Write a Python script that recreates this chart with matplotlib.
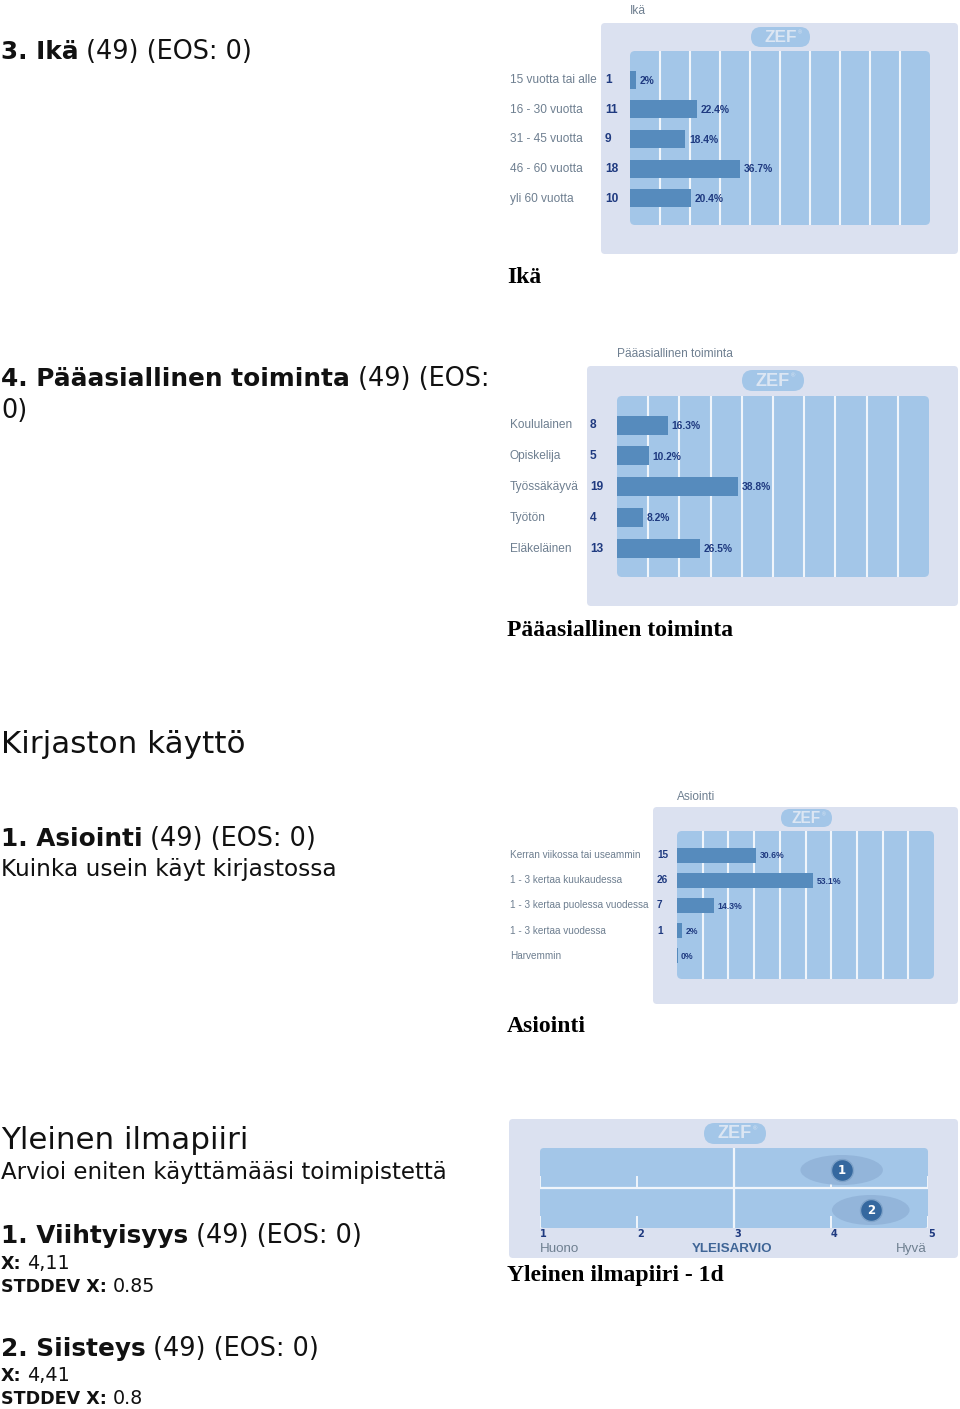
import matplotlib
matplotlib.use("Agg")
import matplotlib.pyplot as plt
from matplotlib.patches import FancyBboxPatch, Ellipse
from matplotlib.transforms import blended_transform_factory

W = 960
H = 1409

age_labels = ["15 vuotta tai alle", "16 - 30 vuotta", "31 - 45 vuotta", "46 - 60 vuotta", "yli 60 vuotta"]
age_counts = ["1", "11", "9", "18", "10"]
age_pct = [2, 22.4, 18.4, 36.7, 20.4]

work_labels = ["Koululainen", "Opiskelija", "Työssäkäyvä", "Työtön", "Eläkeläinen"]
work_counts = ["8", "5", "19", "4", "13"]
work_pct = [16.3, 10.2, 38.8, 8.2, 26.5]

visit_labels = ["Kerran viikossa tai useammin", "1 - 3 kertaa kuukaudessa", "1 - 3 kertaa puolessa vuodessa",
                "1 - 3 kertaa vuodessa", "Harvemmin"]
visit_counts = ["15", "26", "7", "1", ""]
visit_pct = [30.6, 53.1, 14.3, 2, 0]

climate_means = [4.11, 4.41]
climate_stddev = [0.85, 0.8]
climate_ticks = [1, 2, 3, 4, 5]

PANEL = "#dbe1f0"
INNER = "#a3c6e8"
BAR = "#568bbd"
NAVY = "#1f3a80"
GREY = "#6e7f90"
LINE = "#f0f5fb"

fig = plt.figure(figsize=(W / 100, H / 100), dpi=100, facecolor="white")
page = fig.add_axes([0, 0, 1, 1])
page.set_xlim(0, W)
page.set_ylim(H, 0)
page.axis("off")


def px_axes(x0, y0, x1, y1):
    ax = fig.add_axes([x0 / W, 1 - y1 / H, (x1 - x0) / W, (y1 - y0) / H])
    ax.axis("off")
    ax.patch.set_alpha(0)
    return ax


def box(x0, y0, x1, y1, color, r=4, z=1):
    page.add_patch(FancyBboxPatch((x0 + r, y0 + r), x1 - x0 - 2 * r, y1 - y0 - 2 * r,
                                  boxstyle="round,pad=%g,rounding_size=%g" % (r, r),
                                  fc=color, ec="none", zorder=z))


def logo(x0, y0, x1, y1):
    r = (y1 - y0) / 2
    box(x0, y0, x1, y1, INNER, r=r, z=2)
    cx = (x0 + x1) / 2
    page.text(cx, (y0 + y1) / 2 + 0.5, "ZEF", color="#dce6f3", fontsize=(y1 - y0) * 0.62, fontweight="bold",
              ha="center", va="center", family="Liberation Sans", zorder=3)
    page.text(cx + (y1 - y0) * 0.95, y0 + (y1 - y0) * 0.3, "®", color="#dce6f3", fontsize=(y1 - y0) * 0.2,
              ha="center", va="center", family="Liberation Sans", zorder=3)


def rich(x, y, parts, size, bold_size=None):
    rend = fig.canvas.get_renderer()
    for s, weight in parts:
        fs = bold_size if (weight == "bold" and bold_size) else size
        t = page.text(x, y, s, fontsize=fs, fontweight=weight, color="#111111", family="DejaVu Sans",
                      va="baseline", ha="left")
        x += t.get_window_extent(rend).width + size * 0.42


def caption(x, y, s):
    page.text(x, y, s, fontsize=17.05, fontweight="bold", color="black", family="Liberation Serif",
              va="baseline", ha="left")


def bar_chart(title, title_x, title_y, panel, inner, pill, c0, step, bar_h,
              labels, counts, pct, count_x, fs):
    box(*panel, PANEL)
    box(*inner, INNER, r=5, z=2)
    logo(*pill)
    page.text(title_x, title_y, title, fontsize=8.6, color=GREY, family="Liberation Sans", va="center")

    ax = px_axes(inner[0], inner[1], inner[2], inner[3])
    ax.set_xlim(0, 100)
    ax.set_ylim((inner[3] - c0) / step, (inner[1] - c0) / step)
    for g in range(10, 100, 10):
        ax.axvline(g, color=LINE, lw=1.5, zorder=1)
    rows = list(range(len(labels)))
    ax.barh(rows, pct, height=bar_h / step, color=BAR, zorder=2)
    if pct[-1] == 0:
        ax.barh(rows[-1], 0.5, height=bar_h / step, color=BAR, zorder=2)
    tr = blended_transform_factory(page.transData, ax.transData)
    for i in rows:
        page.text(510, i - 1 / step, labels[i], transform=tr, fontsize=fs, color=GREY, family="Liberation Sans",
                  va="center_baseline", ha="left")
        page.text(count_x, i - 1 / step, counts[i], transform=tr, fontsize=fs, fontweight="bold", color=NAVY,
                  family="Liberation Sans", va="center_baseline", ha="left")
        s = "%g%%" % pct[i]
        ax.annotate(s, (pct[i], i), xytext=(2.7, 0), textcoords="offset points", fontsize=fs * 0.86,
                    fontweight="bold", color=NAVY, family="Liberation Sans", va="center_baseline", ha="left",
                    annotation_clip=False)


# left column
rich(1, 59, [("3. Ikä", "bold"), ("(49) (EOS: 0)", "normal")], 18.4, 17.8)
rich(1, 386, [("4. Pääasiallinen toiminta", "bold"), ("(49) (EOS:", "normal")], 18.4, 17.8)
rich(1, 418, [("0)", "normal")], 18.4)
rich(1, 753, [("Kirjaston käyttö", "normal")], 22.3)
rich(1, 846, [("1. Asiointi", "bold"), ("(49) (EOS: 0)", "normal")], 18.4, 17.8)
rich(1, 876, [("Kuinka usein käyt kirjastossa", "normal")], 16.7)
rich(1, 1149, [("Yleinen ilmapiiri", "normal")], 22.3)
rich(1, 1179, [("Arvioi eniten käyttämääsi toimipistettä", "normal")], 16.5)
rich(1, 1243, [("1. Viihtyisyys", "bold"), ("(49) (EOS: 0)", "normal")], 18.4, 17.8)
rich(1, 1269, [("X:", "bold"), ("4,11", "normal")], 13.8, 12.6)
rich(1, 1292, [("STDDEV X:", "bold"), ("0.85", "normal")], 13.8, 12.6)
rich(1, 1356, [("2. Siisteys", "bold"), ("(49) (EOS: 0)", "normal")], 18.4, 17.8)
rich(1, 1381, [("X:", "bold"), ("4,41", "normal")], 13.8, 12.6)
rich(1, 1404, [("STDDEV X:", "bold"), ("0.8", "normal")], 13.8, 12.6)

# bar charts
bar_chart("Ikä", 630, 11, (601, 23, 958, 254), (630, 51, 930, 225), (751, 27, 810, 47),
          79.7, 29.6, 18, age_labels, age_counts, age_pct, 605, 8.6)
bar_chart("Pääasiallinen toiminta", 617, 354, (587, 366, 958, 606), (617, 396, 929, 577), (742, 370, 804, 391),
          425, 30.75, 19, work_labels, work_counts, work_pct, 590, 8.6)
bar_chart("Asiointi", 677, 797, (653, 807, 958, 1004), (677, 831, 934, 979), (781, 809, 832, 827),
          855, 25.2, 15, visit_labels, visit_counts, visit_pct, 657, 7.2)

caption(507, 283, "Ikä")
caption(507, 636, "Pääasiallinen toiminta")
caption(507, 1032, "Asiointi")
caption(507, 1281, "Yleinen ilmapiiri - 1d")

# scale chart
box(509, 1119, 958, 1258, PANEL)
box(540, 1148, 928, 1228, INNER, r=4, z=2)
logo(704, 1123, 766, 1144)

ax = px_axes(540, 1148, 928, 1228)
ax.set_xlim(climate_ticks[0], climate_ticks[-1])
ax.set_ylim(2, 0)
ax.axhline(1, color=LINE, lw=1.6, zorder=1)
ax.axvline(3, color=LINE, lw=1.6, zorder=1)
for row in range(2):
    for t in climate_ticks:
        if t != 3:
            ax.plot([t, t], [row + 0.72, row + 1], color=LINE, lw=1.4, zorder=1)
    m = climate_means[row]
    ax.add_patch(Ellipse((m, row + 0.55), climate_stddev[row], 0.75, fc="#93b5da", ec="none", zorder=2))
    ax.scatter([m], [row + 0.55], s=250, c="#35689f", edgecolors="#7fa3c9", linewidths=1, zorder=3, clip_on=False)
    ax.text(m, row + 0.55, str(row + 1), color="white", fontsize=8.5, fontweight="bold", ha="center",
            va="center", family="DejaVu Sans", zorder=4)

tr = blended_transform_factory(ax.transData, page.transData)
for t in climate_ticks:
    page.text(t, 1234, str(t), transform=tr, fontsize=7, fontweight="bold", color=NAVY, family="DejaVu Sans",
              ha="left", va="center", zorder=3)
page.text(540, 1249, "Huono", fontsize=9.6, color=GREY, family="Liberation Sans", va="center", zorder=3)
page.text(732, 1249, "YLEISARVIO", fontsize=9.6, fontweight="bold", color="#3f6596", family="Liberation Sans",
          ha="center", va="center", zorder=3)
page.text(927, 1249, "Hyvä", fontsize=9.6, color=GREY, family="Liberation Sans", ha="right", va="center", zorder=3)

fig.savefig("out.png", dpi=100)
